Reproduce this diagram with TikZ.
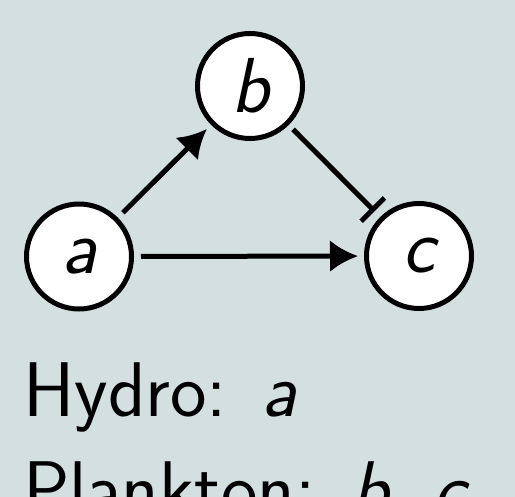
\documentclass[tikz,border=0pt]{standalone}
\usepackage{fontspec}
\usetikzlibrary{arrows.meta}
\definecolor{bg}{RGB}{212,224,224}
\tikzset{
  vert/.style={circle,draw=black,fill=white,line width=5pt,minimum size=105pt,inner sep=0pt,
    font=\fontsize{78}{96}\selectfont\sffamily\slshape},
  act/.style={line width=5pt,-{Latex[length=28pt,width=32pt]},shorten <=7pt,shorten >=6pt},
  inh/.style={line width=5pt,-{Bar[width=33pt]},shorten <=6pt,shorten >=8pt},
  lbl/.style={anchor=base west,inner sep=0pt,font=\fontsize{77.5}{98}\selectfont\sffamily}
}
\begin{document}
\begin{tikzpicture}[x=1pt,y=-1pt]
\useasboundingbox (0,0) rectangle (515,497);
\clip (0,0) rectangle (515,497);
\fill[bg] (0,0) rectangle (515,497);
\node[vert] (a) at (79,256.5) {a};
\node[vert] (b) at (250,86) {b};
\node[vert] (c) at (419,256) {c};
\draw[act] (a) -- (b);
\draw[act] (a) -- (c);
\draw[inh] (b) -- (c);
\node[lbl] (h) at (23,417) {Hydro:\hspace{0.44em}\textsl{a}};
\node[lbl] (p) at (23,515) {Plankton:\hspace{0.46em}\textsl{b}, \textsl{c}};
\end{tikzpicture}
\end{document}
